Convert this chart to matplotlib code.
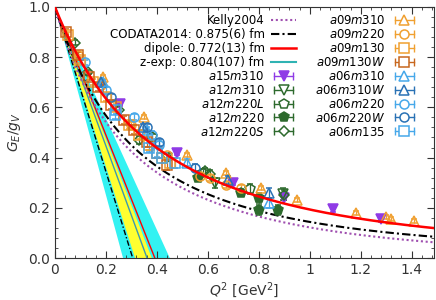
import matplotlib
matplotlib.use("Agg")
import matplotlib.pyplot as plt
from matplotlib.lines import Line2D
from matplotlib.legend_handler import HandlerLine2D, HandlerTuple
from matplotlib.ticker import MultipleLocator, FuncFormatter
import numpy as np

# radii [fm] quoted in the legend
R_CODATA = 0.875
R_DIPOLE = 0.772
R_ZEXP = 0.804
# band edges (radius) read from the slope wedge at Q^2 -> 0
R_ZEXP_INNER = (0.784, 0.862)
R_ZEXP_OUTER = (0.720, 0.935)

# Kelly2004 parameters (G_Ep) and Galster (G_En)
KELLY_A1 = -0.24
KELLY_B = (10.98, 12.82, 21.97)
GALSTER_A, GALSTER_B = 1.70, 3.30

HBARC2 = 0.0389379  # GeV^2 fm^2
M_N = 0.93827

# lattice data: (Q^2, G_E/g_V, err)
a15m310_q2 = [0.255, 0.48, 0.70, 0.90, 1.09, 1.28]
a15m310_g = [0.615, 0.42, 0.300, 0.240, 0.195, 0.155]
a15m310_e = [0.010, 0.010, 0.010, 0.010, 0.010, 0.010]

a12m310_q2 = [0.44, 0.63, 0.895]
a12m310_g = [0.40, 0.300, 0.255]
a12m310_e = [0.015, 0.020, 0.025]

a12m220L_q2 = [0.38, 0.58, 0.765]
a12m220L_g = [0.48, 0.340, 0.275]
a12m220L_e = [0.015, 0.015, 0.020]

a12m220_q2 = [0.56, 0.73, 0.80, 0.80, 0.875]
a12m220_g = [0.320, 0.260, 0.240, 0.190, 0.190]
a12m220_e = [0.015, 0.015, 0.020, 0.020, 0.020]

a12m220S_q2 = [0.078, 0.13, 0.25, 0.33, 0.59, 0.61, 0.90]
a12m220S_g = [0.857, 0.74, 0.59, 0.47, 0.345, 0.335, 0.250]
a12m220S_e = [0.010, 0.010, 0.012, 0.015, 0.015, 0.015, 0.020]

a09m310_q2 = [0.19, 0.35, 0.52, 0.67, 0.81, 0.95, 1.18, 1.30, 1.32, 1.41]
a09m310_g = [0.72, 0.56, 0.41, 0.340, 0.280, 0.230, 0.180, 0.165, 0.155, 0.148]
a09m310_e = [0.008, 0.008, 0.008, 0.008, 0.008, 0.008, 0.008, 0.008, 0.008, 0.008]

a09m220_q2 = [0.09, 0.18, 0.30, 0.44, 0.57, 0.61, 0.67, 0.73]
a09m220_g = [0.81, 0.69, 0.53, 0.41, 0.325, 0.320, 0.290, 0.280]
a09m220_e = [0.010, 0.010, 0.010, 0.010, 0.012, 0.012, 0.012, 0.012]

a09m130_q2 = [0.05, 0.10, 0.15, 0.20, 0.24, 0.29, 0.33, 0.37, 0.42, 0.45]
a09m130_g = [0.89, 0.79, 0.70, 0.64, 0.60, 0.53, 0.49, 0.45, 0.40, 0.38]
a09m130_e = [0.012, 0.012, 0.012, 0.015, 0.015, 0.015, 0.018, 0.018, 0.020, 0.020]

a09m130W_q2 = [0.045, 0.09, 0.135, 0.17, 0.22, 0.27, 0.31, 0.36, 0.40, 0.44]
a09m130W_g = [0.90, 0.81, 0.72, 0.68, 0.61, 0.55, 0.51, 0.46, 0.42, 0.37]
a09m130W_e = [0.012, 0.012, 0.012, 0.015, 0.015, 0.015, 0.018, 0.018, 0.020, 0.020]

a06m310_q2 = [0.19, 0.36, 0.52, 0.84]
a06m310_g = [0.70, 0.51, 0.38, 0.220]
a06m310_e = [0.010, 0.012, 0.015, 0.020]

a06m310W_q2 = [0.18, 0.345, 0.68, 0.84]
a06m310W_g = [0.70, 0.52, 0.310, 0.260]
a06m310W_e = [0.010, 0.012, 0.015, 0.020]

a06m220_q2 = [0.118, 0.20, 0.31, 0.38, 0.41]
a06m220_g = [0.78, 0.67, 0.56, 0.49, 0.45]
a06m220_e = [0.010, 0.012, 0.012, 0.015, 0.015]

a06m220W_q2 = [0.22, 0.36, 0.41, 0.55]
a06m220W_g = [0.64, 0.52, 0.46, 0.36]
a06m220W_e = [0.012, 0.012, 0.015, 0.015]

a06m135_q2 = [0.235, 0.24, 0.37, 0.40, 0.42, 0.47]
a06m135_g = [0.57, 0.59, 0.44, 0.42, 0.40, 0.38]
a06m135_e = [0.015, 0.015, 0.018, 0.018, 0.020, 0.020]

PURPLE = "#8f3be6"
GREEN = "#2d6a2d"
ORANGE = "#f0a030"
BROWN = "#c8671e"
LBLUE = "#46a8ea"
DBLUE = "#2a72b5"

# label, x, y, err, marker, color, filled
ENSEMBLES = [
    ("a15m310", a15m310_q2, a15m310_g, a15m310_e, "v", PURPLE, True),
    ("a12m310", a12m310_q2, a12m310_g, a12m310_e, "v", GREEN, False),
    ("a12m220L", a12m220L_q2, a12m220L_g, a12m220L_e, "p", GREEN, False),
    ("a12m220", a12m220_q2, a12m220_g, a12m220_e, "p", GREEN, True),
    ("a12m220S", a12m220S_q2, a12m220S_g, a12m220S_e, "D", GREEN, False),
    ("a09m310", a09m310_q2, a09m310_g, a09m310_e, "^", ORANGE, False),
    ("a09m220", a09m220_q2, a09m220_g, a09m220_e, "o", ORANGE, False),
    ("a09m130", a09m130_q2, a09m130_g, a09m130_e, "s", ORANGE, False),
    ("a09m130W", a09m130W_q2, a09m130W_g, a09m130W_e, "s", BROWN, False),
    ("a06m310", a06m310_q2, a06m310_g, a06m310_e, "^", LBLUE, False),
    ("a06m310W", a06m310W_q2, a06m310W_g, a06m310W_e, "^", DBLUE, False),
    ("a06m220", a06m220_q2, a06m220_g, a06m220_e, "o", LBLUE, False),
    ("a06m220W", a06m220W_q2, a06m220W_g, a06m220W_e, "o", DBLUE, False),
    ("a06m135", a06m135_q2, a06m135_g, a06m135_e, "s", LBLUE, False),
]


def dipole(q2, r):
    r2 = r * r / HBARC2
    return 1.0 / (1.0 + q2 * r2 / 12.0) ** 2


def slope(q2, r):
    return 1.0 - q2 * (r * r / HBARC2) / 6.0


def kelly(q2):
    tau = q2 / (4 * M_N ** 2)
    b1, b2, b3 = KELLY_B
    gep = (1 + KELLY_A1 * tau) / (1 + b1 * tau + b2 * tau ** 2 + b3 * tau ** 3)
    gd = 1.0 / (1 + q2 / 0.71) ** 2
    gen = GALSTER_A * tau / (1 + GALSTER_B * tau) * gd
    return gep - gen


def marker_size(m):
    return {"p": 7.5, "D": 5.5, "o": 6.5, "s": 6.5}.get(m, 7)


def main() -> None:
    plt.rcParams["font.family"] = "DejaVu Sans"
    plt.rcParams["mathtext.fontset"] = "dejavusans"
    plt.rcParams["font.size"] = 8.5

    fig = plt.figure(figsize=(4.36, 3.0), dpi=100)
    ax = fig.add_axes([0.126, 0.14, 0.869, 0.837])

    q = np.linspace(0, 1.5, 300)
    ql = np.linspace(0, 0.6, 100)

    ax.fill_between(ql, slope(ql, R_ZEXP_OUTER[1]), slope(ql, R_ZEXP_OUTER[0]),
                    color="#33f2f2", lw=0, zorder=1)
    ax.fill_between(ql, slope(ql, R_ZEXP_INNER[1]), slope(ql, R_ZEXP_INNER[0]),
                    color="#ffff30", lw=0, zorder=1.5)
    ax.plot(ql, slope(ql, R_ZEXP), color="#3b9ab0", lw=1.0, zorder=2)
    ax.plot(ql, slope(ql, R_DIPOLE), color="red", lw=1.0, zorder=2)
    ax.plot(ql, slope(ql, R_CODATA), color="black", lw=1.0, ls=(0, (4, 1.5, 1, 1.5)), zorder=2)

    h_k, = ax.plot(q, kelly(q), color="#a050b0", lw=1.5, ls=(0, (1, 1.3)), zorder=3)
    h_c, = ax.plot(q, dipole(q, R_CODATA), color="black", lw=1.5, ls=(0, (4, 1.5, 1, 1.5)), zorder=3)
    h_z = Line2D([], [], color="#2fb3b3", lw=1.5)

    data_handles = []
    handler_map = {}
    for label, x, y, e, m, c, filled in ENSEMBLES:
        ms = marker_size(m)
        mfc = c if filled else "none"
        ax.errorbar(x, y, yerr=e, fmt=m, color=c, mfc=mfc, mec=c, ms=ms, mew=1.1,
                    elinewidth=0.9, capsize=2.0, capthick=0.9, zorder=4)
        # legend handle: marker with horizontal error bar and caps
        bar = Line2D([], [], color=c, lw=1.0, marker="|", ms=6, mew=1.0)
        mark = Line2D([], [], ls="none", marker=m, mfc=mfc if filled else "white",
                      mec=c, ms=ms, mew=1.1)
        handler_map[bar] = HandlerLine2D(numpoints=2)
        data_handles.append(((bar, mark), "$" + label + "$"))

    h_d, = ax.plot(q, dipole(q, R_DIPOLE), color="red", lw=1.8, zorder=5)

    labels = ["Kelly2004", "CODATA2014: 0.875(6) fm", "dipole: 0.772(13) fm", "z-exp: 0.804(107) fm"]
    handles = [h_k, h_c, h_d, h_z] + [h for h, _ in data_handles]
    labels = labels + [l for _, l in data_handles]
    handler_map[tuple] = HandlerTuple(ndivide=1, pad=0)

    ax.legend(handles, labels, ncol=2, loc="upper right", bbox_to_anchor=(0.975, 1.0),
              frameon=False, markerfirst=False, handlelength=2.2, handletextpad=0.5,
              columnspacing=1.6, labelspacing=0.08, borderaxespad=0.2, fontsize=8.5,
              numpoints=1, handler_map=handler_map)

    ax.set_xlim(0, 1.487)
    ax.set_ylim(0, 1.0)
    ax.xaxis.set_major_locator(MultipleLocator(0.2))
    ax.xaxis.set_minor_locator(MultipleLocator(0.04))
    ax.yaxis.set_major_locator(MultipleLocator(0.2))
    ax.yaxis.set_minor_locator(MultipleLocator(0.04))
    ax.xaxis.set_major_formatter(FuncFormatter(lambda v, p: "%g" % round(v, 2)))
    ax.yaxis.set_major_formatter(FuncFormatter(lambda v, p: "%.1f" % v))
    ax.tick_params(which="both", direction="in", top=True, right=True, colors="#333333",
                   labelsize=10)
    ax.tick_params(which="major", length=5)
    ax.tick_params(which="minor", length=2.5)
    for s in ax.spines.values():
        s.set_color("#333333")

    ax.set_xlabel("$Q^2$ [GeV$^2$]", fontsize=10, color="#333333", labelpad=2)
    ax.set_ylabel("$G_E/g_V$", fontsize=10, color="#333333", labelpad=4)

    fig.savefig("out.png", dpi=100)
    plt.close(fig)


if __name__ == "__main__":
    main()
